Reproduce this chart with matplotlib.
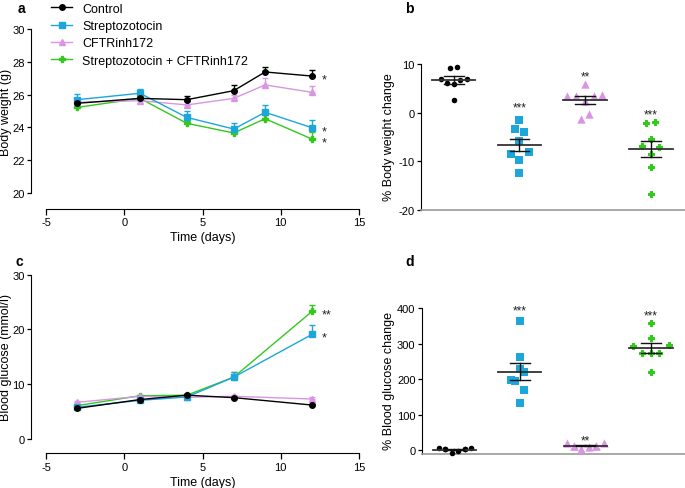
import matplotlib
matplotlib.use("Agg")
import matplotlib.pyplot as plt
from matplotlib.lines import Line2D
import numpy as np

plt.rcParams['font.family'] = ['Liberation Sans', 'DejaVu Sans']
plt.rcParams['axes.unicode_minus'] = False

# ---------------- data ----------------
groups = ["Control", "Streptozotocin", "CFTRinh172", "Streptozotocin + CFTRinh172"]
colors = ["#000000", "#1CA6DA", "#D995E4", "#33C81E"]
markers = ["o", "s", "^", "P"]

days_bw = [-3, 1, 4, 7, 9, 12]
bw_control = [25.47, 25.77, 25.69, 26.24, 27.38, 27.13]
bw_strep = [25.69, 26.08, 24.61, 23.90, 24.92, 23.98]
bw_cftr = [25.53, 25.63, 25.37, 25.77, 26.59, 26.14]
bw_combo = [25.22, 25.77, 24.25, 23.66, 24.53, 23.29]
bw_err_control = [0.15, 0.12, 0.22, 0.35, 0.30, 0.35]
bw_err_strep = [0.37, 0.26, 0.40, 0.35, 0.45, 0.50]
bw_err_cftr = [0.15, 0.15, 0.20, 0.20, 0.40, 0.37]
bw_err_combo = [0.10, 0.10, 0.15, 0.15, 0.20, 0.45]
bw_stars = ["*", "*", "", "*"]

days_bg = [-3, 1, 4, 7, 12]
bg_control = [5.6, 7.2, 8.0, 7.55, 6.2]
bg_strep = [5.8, 7.06, 7.67, 11.3, 19.1]
bg_cftr = [6.7, 7.8, 7.6, 7.8, 7.3]
bg_combo = [6.1, 7.9, 8.0, 11.3, 23.3]
bg_err_control = [0.2, 0.2, 0.2, 0.2, 0.2]
bg_err_strep = [0.2, 0.2, 0.3, 0.9, 1.8]
bg_err_cftr = [0.2, 0.2, 0.2, 0.3, 0.3]
bg_err_combo = [0.2, 0.2, 0.2, 1.0, 1.2]
bg_stars = ["", "*", "", "**"]

# % body weight change (individual animals)
pbw_control = [9.2, 9.4, 7.0, 6.0, 5.8, 6.7, 7.0, 2.7]
pbw_strep = [-1.5, -3.3, -4.0, -5.8, -8.5, -8.1, -9.8, -12.4]
pbw_cftr = [5.95, 3.5, 3.4, 3.5, 3.55, 2.46, -1.23, -0.34]
pbw_combo = [-2.05, -1.98, -5.33, -6.84, -7.11, -8.54, -11.14, -16.75]
pbw_stars = ["", "***", "**", "***"]

# % blood glucose change (individual animals)
pbg_control = [6.6, 2.8, -6.6, -0.9, 2.8, 7.5, 2.8, 2.8]
pbg_strep = [364, 261, 229, 221, 199, 194, 170, 133]
pbg_cftr = [19.7, 12.2, 4.7, 8.4, 13.0, 19.7, 12.2, 13.0]
pbg_combo = [357, 316, 292, 295, 274, 274, 274, 220]
pbg_stars = ["", "***", "**", "***"]

# horizontal scatter offsets of the dots (category units, layout only)
jit_b = [[-0.05, 0.05, -0.2, -0.1, 0.0, 0.1, 0.2, 0.0],
         [0.0, -0.07, 0.07, 0.0, -0.13, 0.14, 0.0, 0.0],
         [0.0, -0.27, -0.14, 0.13, 0.26, 0.0, -0.07, 0.06],
         [-0.07, 0.07, 0.0, -0.13, 0.13, 0.0, 0.0, 0.0]]
jit_d = [[-0.24, -0.14, -0.04, 0.06, 0.16, 0.26, 0.16, -0.14],
         [0.0, 0.0, 0.0, 0.06, -0.13, -0.07, 0.06, 0.0],
         [-0.28, -0.17, -0.06, 0.05, 0.16, 0.28, -0.17, 0.16],
         [0.0, 0.0, -0.27, 0.27, -0.13, 0.0, 0.13, 0.0]]

# ---------------- figure ----------------
W, H = 685, 489
fig = plt.figure(figsize=(W / 100, H / 100), dpi=100)


def add_ax(left, right, top, bottom):
    return fig.add_axes([left / W, 1 - bottom / H, (right - left) / W, (bottom - top) / H])


FS = 8.0
PX = 72 / 100  # points per pixel


def ylab(text, x, y):
    fig.text(x / W, 1 - y / H, text, rotation=90, ha="center", va="center", fontsize=9)


def style_time_axes(ax, ylim, yticks, left_out, bottom_out):
    ax.set_xlim(-5, 15)
    ax.set_ylim(*ylim)
    for s in ["top", "right"]:
        ax.spines[s].set_visible(False)
    ax.spines["left"].set_position(("outward", left_out * PX))
    ax.spines["bottom"].set_position(("outward", bottom_out * PX))
    ax.spines["left"].set_bounds(ylim[0], ylim[1])
    ax.set_xticks([-5, 0, 5, 10, 15])
    ax.set_xticklabels(["-5", "0", "5", "10", "15"])
    ax.set_yticks(yticks)
    ax.tick_params(labelsize=FS, length=3, width=0.9, pad=1.5)
    ax.tick_params(axis="x", length=4, pad=2)
    ax.set_xlabel("Time (days)", fontsize=9, labelpad=3)
    ax.patch.set_visible(False)


def draw_lines(ax, days, series, errs, stars, ms):
    for i, (v, e) in enumerate(zip(series, errs)):
        v = np.array(v)
        e = np.array(e)
        ax.errorbar(days, v, yerr=[np.zeros_like(e), e], color=colors[i], marker=markers[i],
                    ms=ms[i], lw=1.0, capsize=2.5, elinewidth=1.0, capthick=1.0,
                    zorder=3 + (3 - i) * 0.1, clip_on=False)
        if stars[i]:
            ax.annotate(stars[i], (days[-1], v[-1]), xytext=(7, -2.5), textcoords="offset points",
                        ha="left", va="center", fontsize=9, color="#222222")


ms_line = [4, 4.5, 5, 5]

# Panel a
ax_a = add_ax(46, 359, 30, 194)
draw_lines(ax_a, days_bw, [bw_control, bw_strep, bw_cftr, bw_combo],
           [bw_err_control, bw_err_strep, bw_err_cftr, bw_err_combo], bw_stars, ms_line)
style_time_axes(ax_a, (20, 30), [20, 22, 24, 26, 28, 30], 15, 16)
ylab("Body weight (g)", 6, 112)
handles = [Line2D([0], [0], color=colors[i], marker=markers[i], ms=ms_line[i], lw=1.0)
           for i in range(4)]
ax_a.legend(handles, groups, loc="upper left", bbox_to_anchor=(0.0, 1.19), frameon=False,
            fontsize=9, handlelength=1.7, handletextpad=0.8, labelspacing=0.42, borderaxespad=0)

# Panel c
ax_c = add_ax(46, 359, 275.7, 440)
draw_lines(ax_c, days_bg, [bg_control, bg_strep, bg_cftr, bg_combo],
           [bg_err_control, bg_err_strep, bg_err_cftr, bg_err_combo], bg_stars, ms_line)
style_time_axes(ax_c, (0, 30), [0, 10, 20, 30], 15, 14.3)
ylab("Blood glucose (mmol/l)", 6, 358)


def dot_panel(ax, data, jit, ylim, yticks, stars, star_y, ms):
    for i, vals in enumerate(data):
        vals = np.array(vals)
        xs = i + np.array(jit[i])
        ax.scatter(xs, vals, color=colors[i], marker=markers[i], s=ms[i] ** 2, zorder=3,
                   linewidths=0.8 if markers[i] == "P" else 0, edgecolors=colors[i],
                   clip_on=False)
        m = vals.mean()
        sem = vals.std(ddof=1) / np.sqrt(len(vals))
        ax.plot([i - 0.33, i + 0.33], [m, m], color="#333333", lw=1.3, zorder=4)
        ax.plot([i - 0.15, i + 0.15], [m + sem, m + sem], color="#111111", lw=1.0, zorder=4)
        ax.plot([i - 0.15, i + 0.15], [m - sem, m - sem], color="#111111", lw=1.0, zorder=4)
        ax.plot([i, i], [m - sem, m + sem], color="#111111", lw=1.0, zorder=4)
        if stars[i]:
            ax.text(i, star_y[i], stars[i], ha="center", va="center", fontsize=8.5, color="#222222")
    ax.set_xlim(-0.497, 3.52)
    ax.set_ylim(*ylim)
    for s in ["top", "right"]:
        ax.spines[s].set_visible(False)
    ax.spines["bottom"].set_color("#999999")
    ax.spines["bottom"].set_linewidth(1.2)
    ax.set_xticks([])
    ax.set_yticks(yticks)
    ax.tick_params(labelsize=FS, length=3, width=0.9, pad=1.5)
    ax.patch.set_visible(False)


ms_dot = [4.0, 5.2, 6.0, 4.6]

# Panel b
ax_b = add_ax(421, 685, 65, 211)
dot_panel(ax_b, [pbw_control, pbw_strep, pbw_cftr, pbw_combo], jit_b,
          (-20, 10), [-20, -10, 0, 10], pbw_stars, [0, 1.0, 7.4, -0.3], ms_dot)
ylab("% Body weight change", 389, 137)

# Panel d
ax_d = add_ax(421.7, 685, 309, 455)
dot_panel(ax_d, [pbg_control, pbg_strep, pbg_cftr, pbg_combo], jit_d,
          (-10.4, 400), [0, 100, 200, 300, 400], pbg_stars, [0, 392, 27, 380], ms_dot)
ax_d.spines["left"].set_bounds(-10.4, 400)
ylab("% Blood glucose change", 389, 381)

# Panel letters
for lbl, x, y in [("a", 18, 9), ("b", 405, 9), ("c", 15, 262), ("d", 405, 262)]:
    fig.text(x / W, 1 - y / H, lbl, fontsize=10, fontweight="bold", ha="left", va="center")

fig.savefig("out.png", dpi=100)
